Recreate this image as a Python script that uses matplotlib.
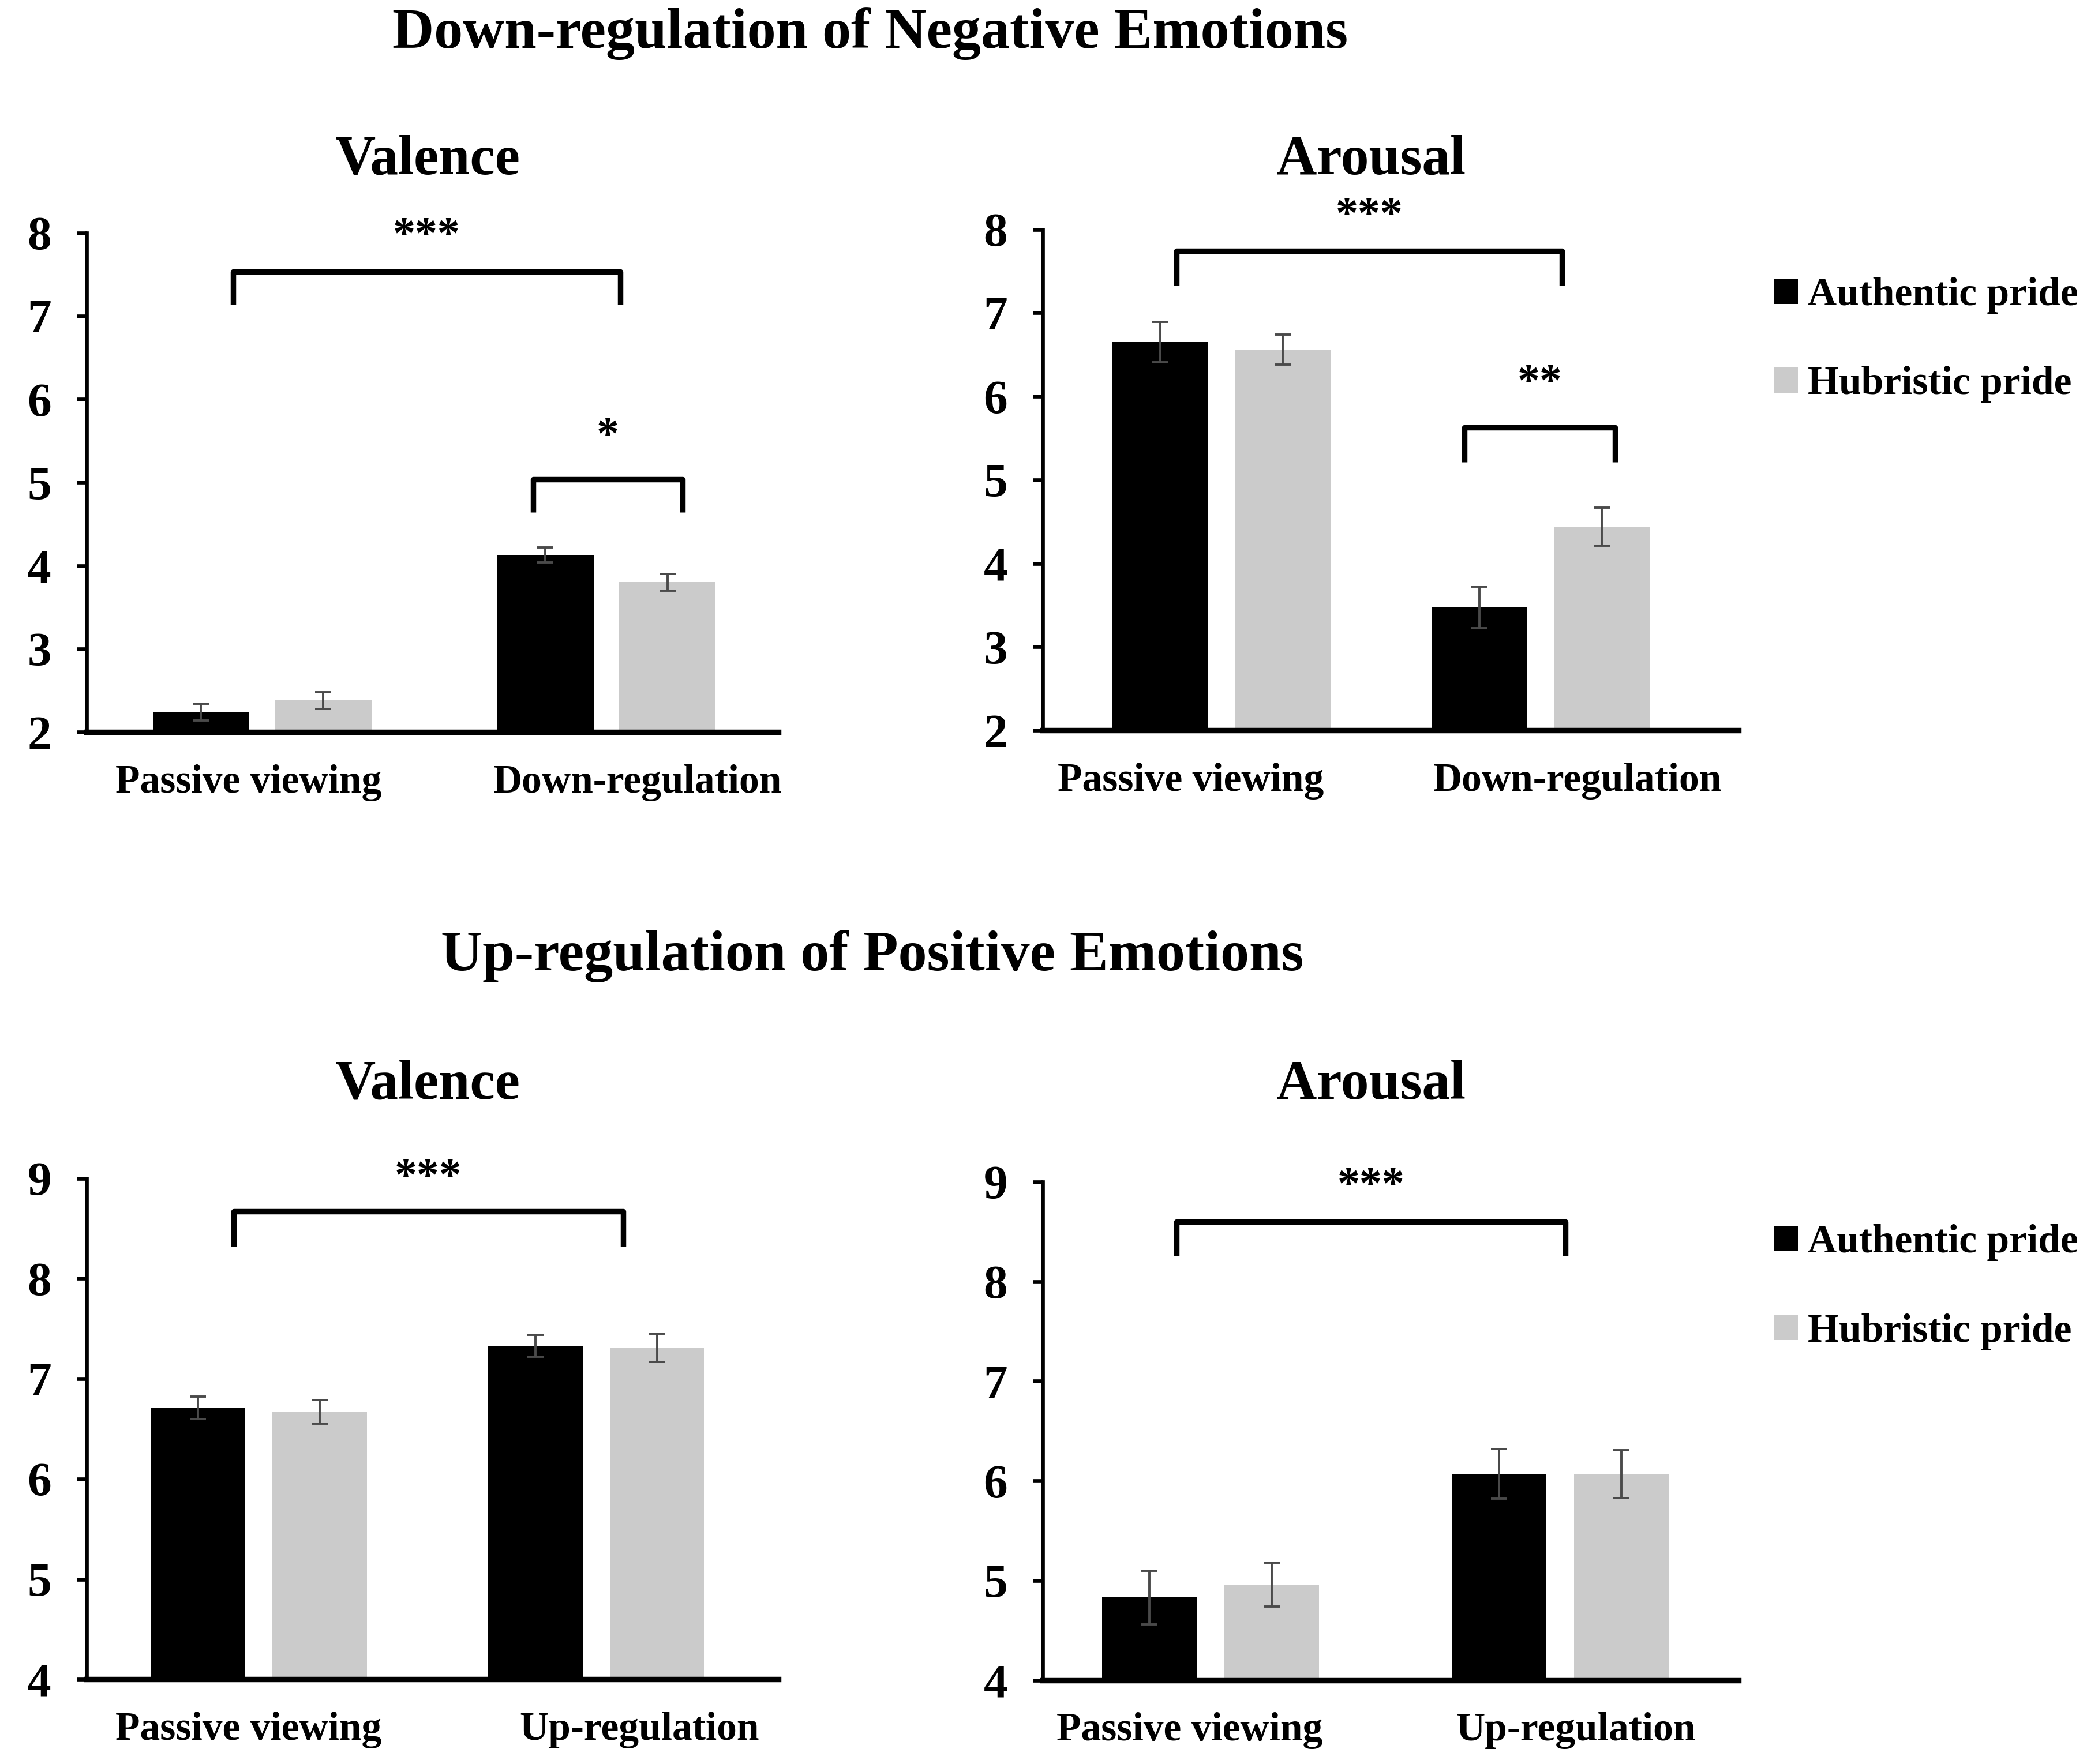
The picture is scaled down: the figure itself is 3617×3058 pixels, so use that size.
import matplotlib.pyplot as plt
import numpy as np

plt.rcParams['font.family'] = ['Liberation Serif', 'DejaVu Serif']
plt.rcParams['font.weight'] = 'bold'

groups_down = ["Passive viewing", "Down-regulation"]
groups_up = ["Passive viewing", "Up-regulation"]
series = ["Authentic pride", "Hubristic pride"]

# Down-regulation of negative emotions
down_val_auth = [2.24, 4.13]
down_val_hub = [2.38, 3.80]
down_val_auth_err = [0.10, 0.09]
down_val_hub_err = [0.10, 0.10]

down_aro_auth = [6.65, 3.47]
down_aro_hub = [6.56, 4.44]
down_aro_auth_err = [0.24, 0.25]
down_aro_hub_err = [0.18, 0.23]

# Up-regulation of positive emotions
up_val_auth = [6.71, 7.33]
up_val_hub = [6.67, 7.31]
up_val_auth_err = [0.11, 0.11]
up_val_hub_err = [0.12, 0.14]

up_aro_auth = [4.83, 6.07]
up_aro_hub = [4.96, 6.07]
up_aro_auth_err = [0.27, 0.25]
up_aro_hub_err = [0.22, 0.24]

BLACK = "#000000"
GREY = "#cbcbcb"
ERR = "#4a4a4a"
FS = 25


def panel(rect, auth, hub, auth_err, hub_err, labels, ylim, xlim, w, off,
          label_pos, brackets):
    ax = fig.add_axes(rect)
    x = np.arange(len(labels))
    b1 = ax.bar(x - off / 2, auth, w, color=BLACK, label=series[0])
    b2 = ax.bar(x + off / 2, hub, w, color=GREY, label=series[1])
    ax.errorbar(x - off / 2, auth, yerr=auth_err, fmt='none', ecolor=ERR,
                elinewidth=1.4, capsize=5, capthick=1.4)
    ax.errorbar(x + off / 2, hub, yerr=hub_err, fmt='none', ecolor=ERR,
                elinewidth=1.4, capsize=5, capthick=1.4)
    ax.set_ylim(*ylim)
    ax.set_xlim(*xlim)
    ax.set_yticks(range(ylim[0], ylim[1] + 1))
    ax.set_xticks(label_pos)
    ax.set_xticklabels(labels, fontsize=FS, fontweight='bold')
    ax.tick_params(axis='y', labelsize=30, length=6, width=2.4, pad=16)
    ax.tick_params(axis='x', length=0, pad=20)
    for lab in ax.get_yticklabels():
        lab.set_fontweight('bold')
    ax.spines['top'].set_visible(False)
    ax.spines['right'].set_visible(False)
    ax.spines['left'].set_linewidth(2.4)
    ax.spines['bottom'].set_linewidth(3.4)
    for x0, x1, ytop, yleg, txt, ytxt in brackets:
        ax.plot([x0, x0, x1, x1], [yleg, ytop, ytop, yleg], color='black',
                lw=3.4, solid_capstyle='butt', clip_on=False)
        ax.text((x0 + x1) / 2, ytxt, txt, ha='center', va='center',
                fontsize=28, fontweight='bold', clip_on=False)
    return ax, (b1, b2)


fig = plt.figure(figsize=(18.085, 15.29), dpi=200)

panel([0.0415, 0.585, 0.3315, 0.283], down_val_auth, down_val_hub,
      down_val_auth_err, down_val_hub_err, groups_down, (2, 8),
      (-0.51, 1.50), 0.28, 0.355, [-0.04, 1.09],
      [(-0.085, 1.04, 7.53, 7.14, "***", 7.95),
       (0.787, 1.221, 5.04, 4.64, "*", 5.55)])

ax_tr, h_tr = panel([0.4997, 0.586, 0.3333, 0.284], down_aro_auth, down_aro_hub,
                    down_aro_auth_err, down_aro_hub_err, groups_down, (2, 8),
                    (-0.56, 1.62), 0.30, 0.383, [-0.096, 1.115],
                    [(-0.142, 1.067, 7.74, 7.33, "***", 8.15),
                     (0.762, 1.233, 5.63, 5.21, "**", 6.15)])

panel([0.0415, 0.048, 0.3315, 0.284], up_val_auth, up_val_hub,
      up_val_auth_err, up_val_hub_err, groups_up, (4, 9),
      (-0.51, 1.54), 0.28, 0.36, [-0.03, 1.128],
      [(-0.075, 1.079, 8.67, 8.32, "***", 9.0)])

ax_br, h_br = panel([0.4997, 0.0475, 0.3333, 0.2825], up_aro_auth, up_aro_hub,
                    up_aro_auth_err, up_aro_hub_err, groups_up, (4, 9),
                    (-0.48, 1.51), 0.27, 0.35, [-0.06, 1.044],
                    [(-0.098, 1.015, 8.6, 8.26, "***", 8.95)])

# titles
fig.text(0.417, 0.981, "Down-regulation of Negative Emotions", ha='center',
         va='center', fontsize=36, fontweight='bold')
fig.text(0.418, 0.458, "Up-regulation of Positive Emotions", ha='center',
         va='center', fontsize=36, fontweight='bold')
fig.text(0.205, 0.909, "Valence", ha='center', va='center', fontsize=35, fontweight='bold')
fig.text(0.657, 0.909, "Arousal", ha='center', va='center', fontsize=35, fontweight='bold')
fig.text(0.205, 0.385, "Valence", ha='center', va='center', fontsize=35, fontweight='bold')
fig.text(0.657, 0.385, "Arousal", ha='center', va='center', fontsize=35, fontweight='bold')

# legends
for handles, ytop in [(h_tr, 0.843), (h_br, 0.306)]:
    fig.legend(handles, series, loc='upper left', bbox_to_anchor=(0.850, ytop),
               frameon=False, prop={'weight': 'bold', 'size': FS},
               handlelength=0.6, handleheight=0.6, handletextpad=0.25,
               labelspacing=1.3, borderpad=0, borderaxespad=0)

fig.savefig("out.png", dpi=200)
